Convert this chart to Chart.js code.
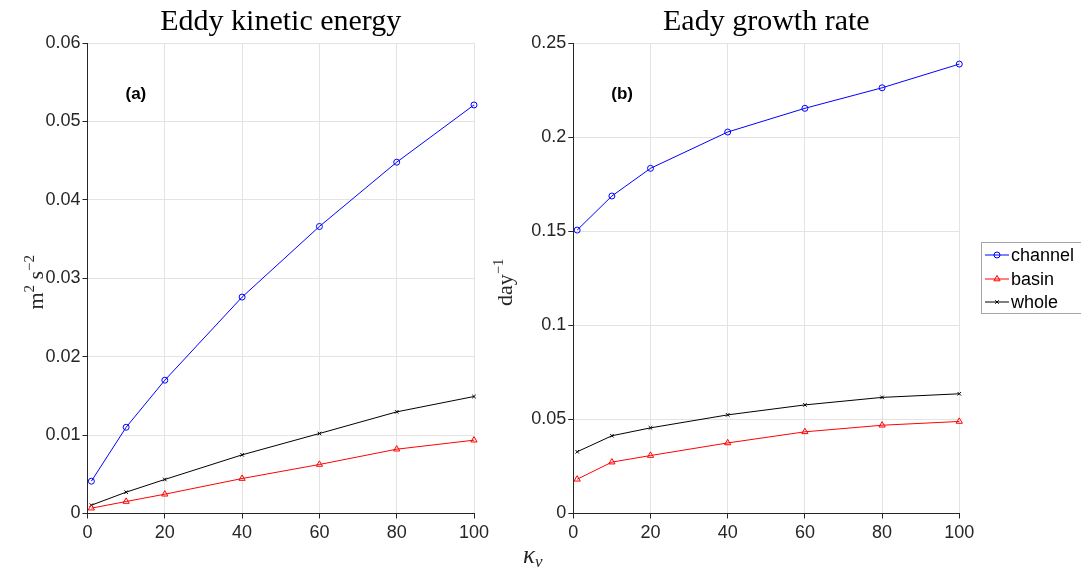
<!DOCTYPE html>
<html>
<head>
<meta charset="utf-8">
<script src="https://cdn.jsdelivr.net/npm/chart.js@4"></script>
<style>
  body { margin: 0; background: #fff; }
  #wrap { position: relative; width: 1081px; height: 576px; overflow: hidden; }
  canvas { position: absolute; top: 0; }
</style>
</head>
<body>
<div id="wrap">
  <canvas id="ekeChart" width="540" height="576" style="left:0"></canvas>
  <canvas id="eadyChart" width="601" height="576" style="left:480px"></canvas>
</div>
<script>
// kappa_v values (x axis)
const kappa = [1, 10, 20, 40, 60, 80, 100];
const seriesNames = ["channel", "basin", "whole"];

// (a) eddy kinetic energy, m^2 s^-2
const ekeChannel = [0.00412, 0.0110, 0.0170, 0.0276, 0.0366, 0.0448, 0.0521];
const ekeBasin = [0.00068, 0.00153, 0.00246, 0.00446, 0.00625, 0.0082, 0.00935];
const ekeWhole = [0.00106, 0.00272, 0.00434, 0.00748, 0.0102, 0.01296, 0.01492];

// (b) Eady growth rate, day^-1
const eadyChannel = [0.1506, 0.1687, 0.1834, 0.2027, 0.2153, 0.2262, 0.2388];
const eadyBasin = [0.0182, 0.0273, 0.0308, 0.0375, 0.0434, 0.0469, 0.0489];
const eadyWhole = [0.0328, 0.0413, 0.0455, 0.0524, 0.0577, 0.0617, 0.0636];

// axis ranges
const xTicks = { min: 0, max: 100, step: 20 };
const ekeTicks = { min: 0, max: 0.06, step: 0.01 };
const eadyTicks = { min: 0, max: 0.25, step: 0.05 };

const styles = [
    { color: "#0000ff", point: "circle", radius: 3 },
    { color: "#ff0000", point: "triangle", radius: 3.6 },
    { color: "#000000", point: "crossRot", radius: 2.5 }
];

const TICK_FONT = { family: "'Liberation Sans', Arial, sans-serif", size: 18 };
const SERIF = "'Liberation Serif', 'DejaVu Serif', serif";
const INK = "#262626";

function toPoints(ys) {
    return kappa.map((k, i) => ({ x: k, y: ys[i] }));
}

// matlab style tick text: 0.1 not 0.10
function tickText(v) {
    return String(Number(v.toFixed(6)));
}

// draw a rotated label made of normal and superscript parts
function drawYLabel(ctx, cx, cy, parts, size) {
    ctx.save();
    ctx.translate(cx, cy);
    ctx.rotate(-Math.PI / 2);
    ctx.fillStyle = INK;
    ctx.textBaseline = "alphabetic";
    let total = 0;
    parts.forEach(p => {
        ctx.font = (p.sup ? size * 0.68 : size) + "px " + SERIF;
        p.w = ctx.measureText(p.t).width;
        total += p.w;
    });
    let x = -total / 2;
    parts.forEach(p => {
        ctx.font = (p.sup ? size * 0.68 : size) + "px " + SERIF;
        ctx.fillText(p.t, x, p.sup ? -size * 0.42 : 0);
        x += p.w;
    });
    ctx.restore();
}

function textPlugin(opts) {
    return {
        id: "panelText",
        afterDraw(chart) {
            const ctx = chart.ctx;
            const area = chart.chartArea;
            ctx.save();
            // title
            ctx.font = "30px " + SERIF;
            ctx.fillStyle = "#000";
            ctx.textAlign = "center";
            ctx.textBaseline = "alphabetic";
            ctx.fillText(opts.title, (area.left + area.right) / 2, 30);
            // panel tag
            ctx.font = "bold 17px 'Liberation Sans', Arial, sans-serif";
            ctx.textAlign = "left";
            ctx.textBaseline = "middle";
            ctx.fillStyle = "#000";
            ctx.fillText(opts.panel, area.left + opts.panelDx, 94);
            ctx.restore();
            drawYLabel(ctx, opts.ylabelX, (area.top + area.bottom) / 2 + 4, opts.ylabel, 22);
            if (opts.after) opts.after(chart);
        }
    };
}

function drawMarker(ctx, style, x, y) {
    ctx.strokeStyle = style.color;
    ctx.fillStyle = "rgba(0,0,0,0)";
    ctx.lineWidth = 1;
    Chart.helpers.drawPoint(ctx, { pointStyle: style.point, radius: style.radius, rotation: 0, borderWidth: 1 }, x, y);
}

// legend + kappa label on the right canvas
function drawExtras(chart) {
    const ctx = chart.ctx;
    ctx.save();
    const bx = 501.5, by = 242.5, bw = 100, bh = 71;
    ctx.strokeStyle = "#a6a6a6";
    ctx.lineWidth = 1;
    ctx.fillStyle = "#fff";
    ctx.fillRect(bx, by, bw, bh);
    ctx.strokeRect(bx, by, bw, bh);
    const rows = [255, 279, 302];
    chart.data.datasets.forEach((ds, i) => {
        const y = rows[i];
        ctx.strokeStyle = styles[i].color;
        ctx.beginPath();
        ctx.moveTo(505, y);
        ctx.lineTo(529, y);
        ctx.stroke();
        drawMarker(ctx, styles[i], 517, y);
        ctx.fillStyle = "#000";
        ctx.font = "18px 'Liberation Sans', Arial, sans-serif";
        ctx.textAlign = "left";
        ctx.textBaseline = "middle";
        ctx.fillText(ds.label, 531, y + 1);
    });
    // x label kappa_v
    ctx.fillStyle = INK;
    ctx.textBaseline = "alphabetic";
    ctx.font = "italic 25px " + SERIF;
    ctx.fillText("κ", 43, 563);
    const kw = ctx.measureText("κ").width;
    ctx.font = "italic 17px " + SERIF;
    ctx.fillText("v", 43 + kw, 567);
    ctx.restore();
}

function makeChart(id, series, yTicks, layout, text) {
    const datasets = series.map((ys, i) => ({
        label: seriesNames[i],
        data: toPoints(ys),
        borderColor: styles[i].color,
        backgroundColor: "rgba(0,0,0,0)",
        borderWidth: 1,
        pointStyle: styles[i].point,
        pointRadius: styles[i].radius,
        pointBorderWidth: 1,
        pointBorderColor: styles[i].color,
        pointBackgroundColor: "rgba(0,0,0,0)",
        tension: 0,
        clip: false
    }));

    return new Chart(document.getElementById(id), {
        type: "line",
        data: { datasets: datasets },
        options: {
            responsive: false,
            animation: false,
            layout: { padding: { left: layout.padLeft, right: layout.padRight, top: 43, bottom: 0 } },
            plugins: { legend: { display: false }, tooltip: { enabled: false } },
            scales: {
                x: {
                    type: "linear",
                    min: xTicks.min,
                    max: xTicks.max,
                    afterFit: s => { s.height = 62.5; },
                    ticks: { stepSize: xTicks.step, color: INK, font: TICK_FONT, padding: 4, maxRotation: 0, callback: tickText },
                    grid: { color: "#e3e3e3", tickColor: INK, tickLength: 5, lineWidth: 1 },
                    border: { color: INK, width: 1 }
                },
                y: {
                    type: "linear",
                    min: yTicks.min,
                    max: yTicks.max,
                    afterFit: s => { s.width = 60; },
                    ticks: { stepSize: yTicks.step, color: INK, font: TICK_FONT, padding: 2, callback: tickText },
                    grid: { color: "#e3e3e3", tickColor: INK, tickLength: 5, lineWidth: 1 },
                    border: { color: INK, width: 1 }
                }
            }
        },
        plugins: [textPlugin(text)]
    });
}

makeChart("ekeChart", [ekeChannel, ekeBasin, ekeWhole], ekeTicks,
    { padLeft: 27.5, padRight: 66 },
    {
        title: "Eddy kinetic energy", panel: "(a)", panelDx: 38, ylabelX: 43,
        ylabel: [{ t: "m" }, { t: "2", sup: true }, { t: " s" }, { t: "−2", sup: true }]
    });

makeChart("eadyChart", [eadyChannel, eadyBasin, eadyWhole], eadyTicks,
    { padLeft: 33.3, padRight: 121.7 },
    {
        title: "Eady growth rate", panel: "(b)", panelDx: 38, ylabelX: 32,
        ylabel: [{ t: "day" }, { t: "−1", sup: true }],
        after: drawExtras
    });
</script>
</body>
</html>
